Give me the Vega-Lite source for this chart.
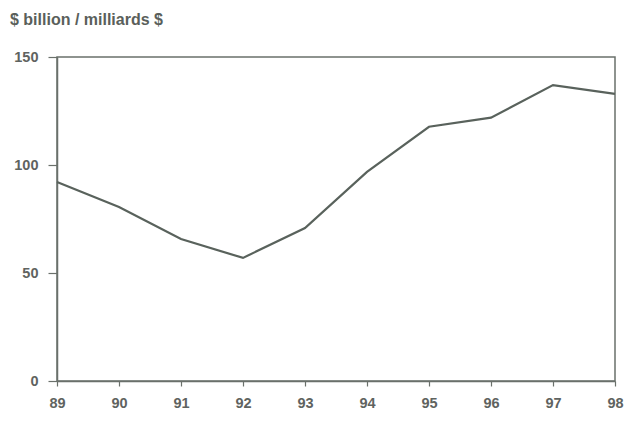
{
  "$schema": "https://vega.github.io/schema/vega-lite/v6.json",
  "autosize": {"type": "none"},
  "padding": {"left": 57, "top": 57, "right": 9, "bottom": 46},
  "width": 558,
  "height": 324,
  "background": "#ffffff",
  "title": {
    "text": "$ billion / milliards $",
    "anchor": "start",
    "frame": "group",
    "dx": -47,
    "offset": 21,
    "font": "Liberation Sans",
    "fontSize": 16,
    "fontWeight": "bold",
    "color": "#5a5f5b"
  },
  "config": {
    "view": {"stroke": "#6a706b", "strokeWidth": 1.5},
    "axis": {
      "grid": false,
      "domainColor": "#6a706b",
      "domainWidth": 1.5,
      "tickColor": "#6a706b",
      "tickWidth": 1.2,
      "labelFont": "Liberation Sans",
      "labelFontSize": 14.5,
      "labelFontWeight": "bold",
      "labelColor": "#5f6360",
      "title": null
    }
  },
  "data": {
    "values": [
      {"year": 89, "value": 92.1},
      {"year": 90, "value": 80.6},
      {"year": 91, "value": 65.7},
      {"year": 92, "value": 57.0},
      {"year": 93, "value": 70.8},
      {"year": 94, "value": 96.8},
      {"year": 95, "value": 117.7},
      {"year": 96, "value": 121.9},
      {"year": 97, "value": 137.0},
      {"year": 98, "value": 132.9}
    ]
  },
  "mark": {"type": "line", "color": "#59625c", "strokeWidth": 2.2},
  "encoding": {
    "x": {
      "field": "year",
      "type": "quantitative",
      "scale": {"domain": [89, 98], "nice": false, "zero": false},
      "axis": {"values": [89, 90, 91, 92, 93, 94, 95, 96, 97, 98], "format": "d", "tickSize": 5, "labelPadding": 10, "labelFlush": false}
    },
    "y": {
      "field": "value",
      "type": "quantitative",
      "scale": {"domain": [0, 150], "nice": false},
      "axis": {"values": [0, 50, 100, 150], "tickSize": 9, "labelPadding": 10}
    }
  }
}
